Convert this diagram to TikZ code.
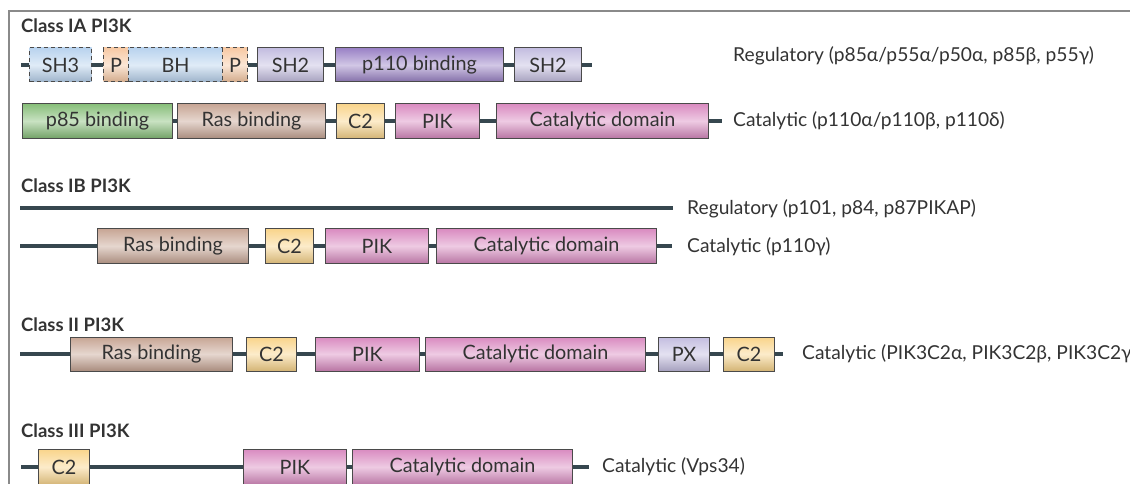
\documentclass[tikz,border=0pt]{standalone}
\usepackage{fontspec}
\setmainfont{Lato}
\definecolor{linkc}{HTML}{36474F}
\definecolor{boxc}{HTML}{4A4A4A}
\definecolor{txt}{HTML}{333333}
\definecolor{framec}{HTML}{8A8A8A}
\definecolor{bluec}{HTML}{B9D3EE}
\definecolor{orangec}{HTML}{F7C9A4}
\definecolor{lavc}{HTML}{C3BDE0}
\definecolor{purpc}{HTML}{9A82C6}
\definecolor{greenc}{HTML}{86BE78}
\definecolor{tanc}{HTML}{C7A594}
\definecolor{yelc}{HTML}{F9D48A}
\definecolor{pinkc}{HTML}{D98AC0}
\tikzset{
  dom/.style={draw=boxc, line width=1pt, minimum height=34, inner sep=0pt,
    anchor=west, text=txt, font=\fontsize{19.8}{21}\selectfont},
  shd/.style={top color=#1, bottom color=#1!85!black, middle color=#1!45!white},
  dsh/.style={dashed, dash pattern=on 4pt off 3pt},
  link/.style={draw=linkc, line width=4pt},
  lbl/.style={anchor=west, text=txt, inner sep=0pt, font=\fontsize{19.2}{21}\selectfont},
  hdr/.style={anchor=west, text=txt, inner sep=0pt, font=\fontsize{18.5}{20}\selectfont\bfseries},
}
\begin{document}
\begin{tikzpicture}[x=1pt, y=-1pt]
\useasboundingbox (0,0) rectangle (1130,484);
% frame
\draw[framec, line width=1.5pt] (1130,11) -- (9,11) -- (9,484);

% ---------------- Class IA
\node[hdr] (hIA) at (21,26) {Class IA PI3K};
\coordinate (r1s) at (21,65);
\coordinate (r1e) at (592,65);
\node[dom, dsh, shd=bluec, minimum width=62] (sh3) at (29,65) {SH3};
\node[dom, dsh, shd=orangec, minimum width=25] (p1) at (103,65) {P};
\node[dom, dsh, shd=bluec, minimum width=94] (bh) at (128,65) {BH};
\node[dom, dsh, shd=orangec, minimum width=25] (p2) at (222,65) {P};
\node[dom, shd=lavc, minimum width=66] (sh2a) at (257,65) {SH2};
\node[dom, shd=purpc, minimum width=168] (p110) at (335,65) {p110 binding};
\node[dom, shd=lavc, minimum width=67] (sh2b) at (514,65) {SH2};
\draw[link] (r1s) -- (sh3.west);
\draw[link] (sh3.east) -- (p1.west);
\draw[link] (p2.east) -- (sh2a.west);
\draw[link] (sh2a.east) -- (p110.west);
\draw[link] (p110.east) -- (sh2b.west);
\draw[link] (sh2b.east) -- (r1e);
\node[lbl] (l1) at (733,56) {Regulatory (p85α/p55α/p50α, p85β, p55γ)};

\coordinate (r2e) at (722,121);
\node[dom, shd=greenc, minimum height=35, minimum width=150] (p85) at (22,121) {p85 binding};
\node[dom, shd=tanc, minimum height=35, minimum width=148] (ras1) at (177,121) {Ras binding};
\node[dom, shd=yelc, minimum height=35, minimum width=48] (c2a) at (336,121) {C2};
\node[dom, shd=pinkc, minimum height=35, minimum width=84] (pik1) at (395,121) {PIK};
\node[dom, shd=pinkc, minimum height=35, minimum width=212] (cat1) at (496,121) {Catalytic domain};
\draw[link] (p85.east) -- (ras1.west);
\draw[link] (ras1.east) -- (c2a.west);
\draw[link] (c2a.east) -- (pik1.west);
\draw[link] (pik1.east) -- (cat1.west);
\draw[link] (cat1.east) -- (r2e);
\node[lbl] (l2) at (733,121) {Catalytic (p110α/p110β, p110δ)};

% ---------------- Class IB
\node[hdr] (hIB) at (21,186) {Class IB PI3K};
\coordinate (rgs) at (20,208);
\coordinate (rge) at (673,208);
\draw[link] (rgs) -- (rge);
\node[lbl] (l3) at (687,209) {Regulatory (p101, p84, p87PIKAP)};

\coordinate (r3s) at (20,246);
\coordinate (r3e) at (672,246);
\node[dom, shd=tanc, minimum height=35, minimum width=151] (ras2) at (97,246) {Ras binding};
\node[dom, shd=yelc, minimum height=35, minimum width=48] (c2b) at (265,246) {C2};
\node[dom, shd=pinkc, minimum height=35, minimum width=103] (pik2) at (325,246) {PIK};
\node[dom, shd=pinkc, minimum height=35, minimum width=220] (cat2) at (436,246) {Catalytic domain};
\draw[link] (r3s) -- (ras2.west);
\draw[link] (ras2.east) -- (c2b.west);
\draw[link] (c2b.east) -- (pik2.west);
\draw[link] (pik2.east) -- (cat2.west);
\draw[link] (cat2.east) -- (r3e);
\node[lbl] (l4) at (687,247) {Catalytic (p110γ)};

% ---------------- Class II
\node[hdr] (hII) at (21,325) {Class II PI3K};
\coordinate (r4s) at (20,354);
\coordinate (r4e) at (783,354);
\node[dom, shd=tanc, minimum width=162] (ras3) at (70,354) {Ras binding};
\node[dom, shd=yelc, minimum width=50] (c2c) at (246,354) {C2};
\node[dom, shd=pinkc, minimum width=104] (pik3) at (315,354) {PIK};
\node[dom, shd=pinkc, minimum width=220] (cat3) at (425,354) {Catalytic domain};
\node[dom, shd=lavc, minimum width=51] (px) at (658,354) {PX};
\node[dom, shd=yelc, minimum width=51] (c2d) at (723,354) {C2};
\draw[link] (r4s) -- (ras3.west);
\draw[link] (ras3.east) -- (c2c.west);
\draw[link] (c2c.east) -- (pik3.west);
\draw[link] (pik3.east) -- (cat3.west);
\draw[link] (cat3.east) -- (px.west);
\draw[link] (px.east) -- (c2d.west);
\draw[link] (c2d.east) -- (r4e);
\node[lbl] (l5) at (802,354) {Catalytic (PIK3C2α, PIK3C2β, PIK3C2γ)};

% ---------------- Class III
\node[hdr] (hIII) at (21,431) {Class III PI3K};
\coordinate (r5s) at (21,467);
\coordinate (r5e) at (589,467);
\node[dom, shd=yelc, minimum height=36, minimum width=51] (c2e) at (38,467) {C2};
\node[dom, shd=pinkc, minimum height=36, minimum width=103] (pik4) at (243,467) {PIK};
\node[dom, shd=pinkc, minimum height=36, minimum width=220] (cat4) at (352,467) {Catalytic domain};
\draw[link] (r5s) -- (c2e.west);
\draw[link] (c2e.east) -- (pik4.west);
\draw[link] (pik4.east) -- (cat4.west);
\draw[link] (cat4.east) -- (r5e);
\node[lbl] (l6) at (602,467) {Catalytic (Vps34)};
\end{tikzpicture}
\end{document}
